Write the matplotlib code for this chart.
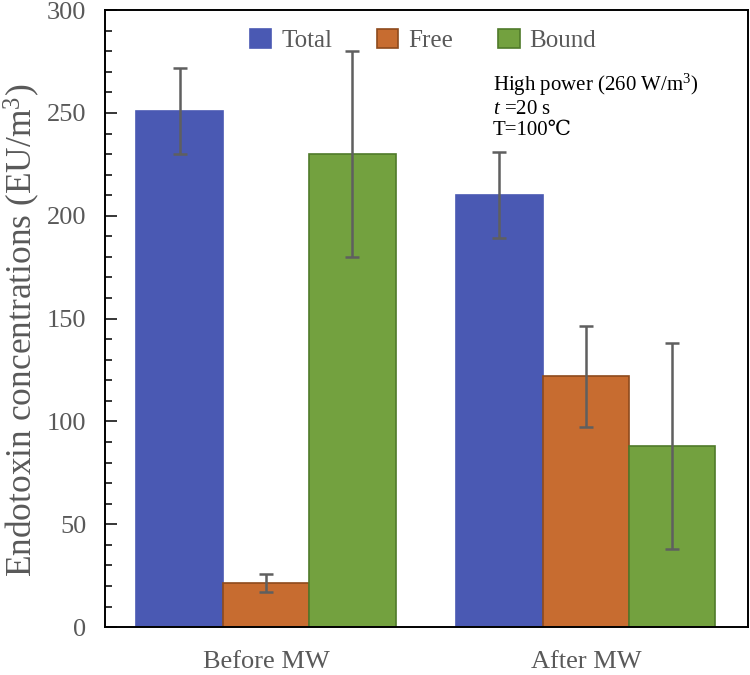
import matplotlib
matplotlib.use("Agg")
import matplotlib.pyplot as plt
import numpy as np
from matplotlib.ticker import MultipleLocator

plt.rcParams['font.family'] = ['Liberation Serif', 'DejaVu Serif']
plt.rcParams['mathtext.fontset'] = 'custom'
plt.rcParams['mathtext.it'] = 'Liberation Serif:italic'
plt.rcParams['mathtext.rm'] = 'Liberation Serif'

groups = ["Before MW", "After MW"]
series = ["Total", "Free", "Bound"]
values = {
    "Total": [251, 210],
    "Free": [21.5, 122],
    "Bound": [230, 88],
}
errors = {
    "Total": [21, 21],
    "Free": [4.5, 24.5],
    "Bound": [50, 50],
}
colors = {"Total": "#4a59b3", "Free": "#c76c30", "Bound": "#73a13f"}
edges = {"Total": "#4a59b3", "Free": "#8e4a1c", "Bound": "#4f7a2a"}

fig = plt.figure(figsize=(7.5, 6.75), dpi=100)
ax = fig.add_axes([0.14, 0.071, 0.857, 0.914])

x = np.arange(len(groups))
w = 0.27
for i, s in enumerate(series):
    ax.bar(x + (i - 1) * w, values[s], w, color=colors[s], edgecolor=edges[s],
           linewidth=1.2, label=s, zorder=2)
    ax.errorbar(x + (i - 1) * w, values[s], yerr=errors[s], fmt='none',
                ecolor='#5f5f5f', elinewidth=1.8, capsize=5, capthick=1.8, zorder=3)

ax.set_xlim(-0.503, 1.506)
ax.set_ylim(0, 300)
ax.yaxis.set_major_locator(MultipleLocator(50))
ax.yaxis.set_minor_locator(MultipleLocator(10))
ax.tick_params(axis='y', which='major', direction='in', length=8.5, width=1.1,
               labelsize=19, labelcolor='#595959', pad=13.5)
ax.tick_params(axis='y', which='minor', direction='in', length=5, width=1.1)
ax.set_xticks(x)
ax.set_xticklabels(groups)
ax.tick_params(axis='x', length=0, labelsize=19, labelcolor='#595959', pad=17)
for sp in ax.spines.values():
    sp.set_linewidth(1.4)
    sp.set_color('black')

ax.set_ylabel("Endotoxin concentrations (EU/m$^3$)", fontsize=25.5, color='#595959')
ax.yaxis.set_label_coords(-0.098, 0.481)

leg = ax.legend(loc='center', bbox_to_anchor=(0.495, 0.951), ncol=3, frameon=False,
                fontsize=18, handlelength=0.85, handleheight=0.85, handletextpad=0.4,
                columnspacing=1.8)
for t in leg.get_texts():
    t.set_color('#595959')

ax.text(0.603, 0.9, "High power (260 W/m$^3$)\n$t$ =20 s\nT=100\u2103",
        transform=ax.transAxes, fontsize=15, va='top', ha='left', linespacing=1.15,
        color='black')

fig.savefig("out.png", dpi=100)
